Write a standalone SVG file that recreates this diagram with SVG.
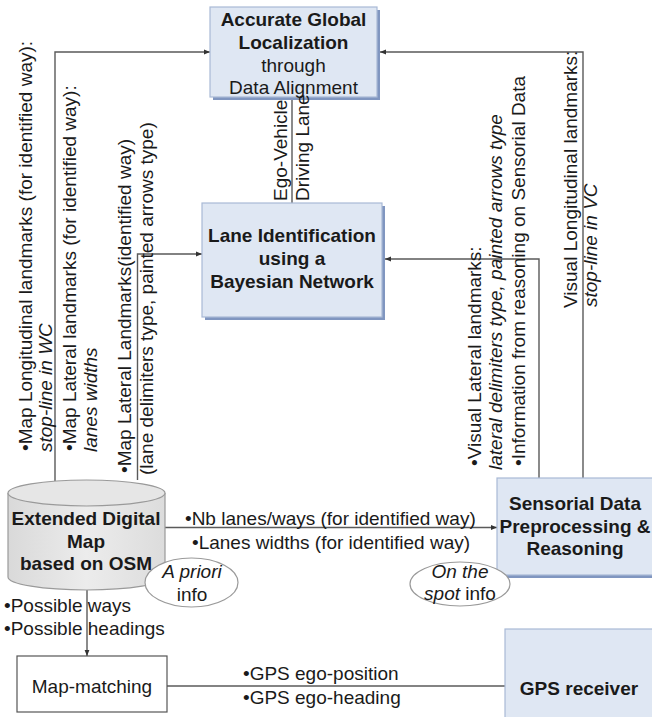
<svg xmlns="http://www.w3.org/2000/svg" width="652" height="717" viewBox="0 0 652 717">
<defs>
<style>
text{font-family:"Liberation Sans",Arial,sans-serif;font-size:19px;fill:#1a1a1a}
.b{font-weight:bold}
.i{font-style:italic}
.c{text-anchor:middle}
.box{fill:#dfe7f3;stroke:#a9b9d6;stroke-width:1.2}
.shd{fill:#8096c0}
.ln{fill:none;stroke:#5a5a5a;stroke-width:1.4}
.ell{fill:#ffffff;stroke:#9a9a9a;stroke-width:1.2}
</style>
<marker id="arr" viewBox="0 0 10 10" refX="10" refY="5" markerWidth="6" markerHeight="6" orient="auto" markerUnits="userSpaceOnUse">
<path d="M0,1 L10,5 L0,9 z" fill="#333"/>
</marker>
<linearGradient id="cyl" x1="0" y1="0" x2="1" y2="0">
<stop offset="0" stop-color="#d9d9d9"/>
<stop offset="0.5" stop-color="#ececec"/>
<stop offset="1" stop-color="#dcdcdc"/>
</linearGradient>
</defs>
<rect width="652" height="717" fill="#ffffff"/>

<g id="connectors">
<polyline class="ln" points="55,481 55,52 210,52" marker-end="url(#arr)"/>
<polyline class="ln" points="137.5,480 137.5,254 202,254" marker-end="url(#arr)"/>
<polyline class="ln" points="539,478 539,259 385,259" marker-end="url(#arr)"/>
<polyline class="ln" points="583,478 583,52 380,52" marker-end="url(#arr)"/>
<line class="ln" x1="292" y1="97" x2="292" y2="203"/>
<line class="ln" x1="165" y1="527.5" x2="497" y2="527.5" marker-end="url(#arr)"/>
<line class="ln" x1="87" y1="590" x2="87" y2="656" marker-end="url(#arr)"/>
<line class="ln" x1="167" y1="686" x2="505" y2="686"/>
</g>

<g id="global-localization">
<rect class="shd" x="213" y="10" width="167" height="90"/>
<rect class="box" x="210" y="7" width="167" height="90"/>
<text class="b c" x="293.5" y="26">Accurate Global</text>
<text class="b c" x="293.5" y="49">Localization</text>
<text class="c" x="293.5" y="71.5">through</text>
<text class="c" x="293.5" y="94">Data Alignment</text>
</g>

<g id="lane-identification">
<rect class="shd" x="205" y="206" width="180" height="114"/>
<rect class="box" x="202" y="203" width="180" height="114"/>
<text class="b c" x="292" y="242">Lane Identification</text>
<text class="b c" x="292" y="265">using a</text>
<text class="b c" x="292" y="288">Bayesian Network</text>
</g>

<g id="digital-map">
<path d="M8,493 L8,577 A78.5,13 0 0 0 165,577 L165,493" fill="url(#cyl)" stroke="#9a9a9a" stroke-width="1.2"/>
<ellipse cx="86.5" cy="493" rx="78.5" ry="13" fill="#e6e6e6" stroke="#9a9a9a" stroke-width="1.2"/>
<text class="b c" x="86" y="525">Extended Digital</text>
<text class="b c" x="86" y="548">Map</text>
<text class="b c" x="86" y="570">based on OSM</text>
</g>

<g id="a-priori">
<ellipse class="ell" cx="191.5" cy="582.5" rx="46.5" ry="24.5"/>
<text class="i c" x="192" y="578">A priori</text>
<text class="c" x="192" y="601">info</text>
</g>

<g id="sensorial">
<rect class="shd" x="500" y="481" width="160" height="97"/>
<rect class="box" x="497" y="478" width="160" height="97"/>
<text class="b c" x="575" y="510">Sensorial Data</text>
<text class="b c" x="575" y="533">Preprocessing &amp;</text>
<text class="b c" x="575" y="555">Reasoning</text>
</g>

<g id="on-the-spot">
<ellipse class="ell" cx="460" cy="584" rx="50" ry="22"/>
<text class="i c" x="460" y="578">On the</text>
<text class="c" x="460" y="600"><tspan class="i">spot</tspan> info</text>
</g>

<g id="map-matching">
<rect x="17" y="656" width="150" height="56" fill="#ffffff" stroke="#555" stroke-width="1.2"/>
<text class="c" x="92" y="693">Map-matching</text>
</g>

<g id="gps-receiver">
<rect class="box" x="505" y="629" width="152" height="95"/>
<text class="b c" x="579" y="695">GPS receiver</text>
</g>

<g id="labels">
<text transform="translate(32,451) rotate(-90)">•Map Longitudinal landmarks (for identified way):</text>
<text class="i" transform="translate(52,452) rotate(-90)">stop-line in WC</text>
<text transform="translate(76,451) rotate(-90)">•Map Lateral landmarks (for identified way):</text>
<text class="i" transform="translate(97,452) rotate(-90)">lanes widths</text>
<text transform="translate(131,473) rotate(-90)">•Map Lateral Landmarks(identified way)</text>
<text transform="translate(153,475) rotate(-90)">(lane delimiters type, painted arrows type)</text>
<text transform="translate(287,201) rotate(-90)">Ego-Vehicle</text>
<text transform="translate(309,201) rotate(-90)">Driving Lane</text>
<text transform="translate(481,466) rotate(-90)">•Visual Lateral landmarks:</text>
<text class="i" transform="translate(502,470) rotate(-90)">lateral delimiters type, painted arrows type</text>
<text transform="translate(525,466) rotate(-90)">•Information from reasoning on Sensorial Data</text>
<text transform="translate(577,308) rotate(-90)">Visual Longitudinal landmarks:</text>
<text class="i" transform="translate(597,307) rotate(-90)">stop-line in VC</text>
<text x="185" y="525">•Nb lanes/ways (for identified way)</text>
<text x="192" y="549">•Lanes widths (for identified way)</text>
<text x="4" y="612">•Possible ways</text>
<text x="4" y="635">•Possible headings</text>
<text x="243" y="680">•GPS ego-position</text>
<text x="243" y="704">•GPS ego-heading</text>
</g>
</svg>
